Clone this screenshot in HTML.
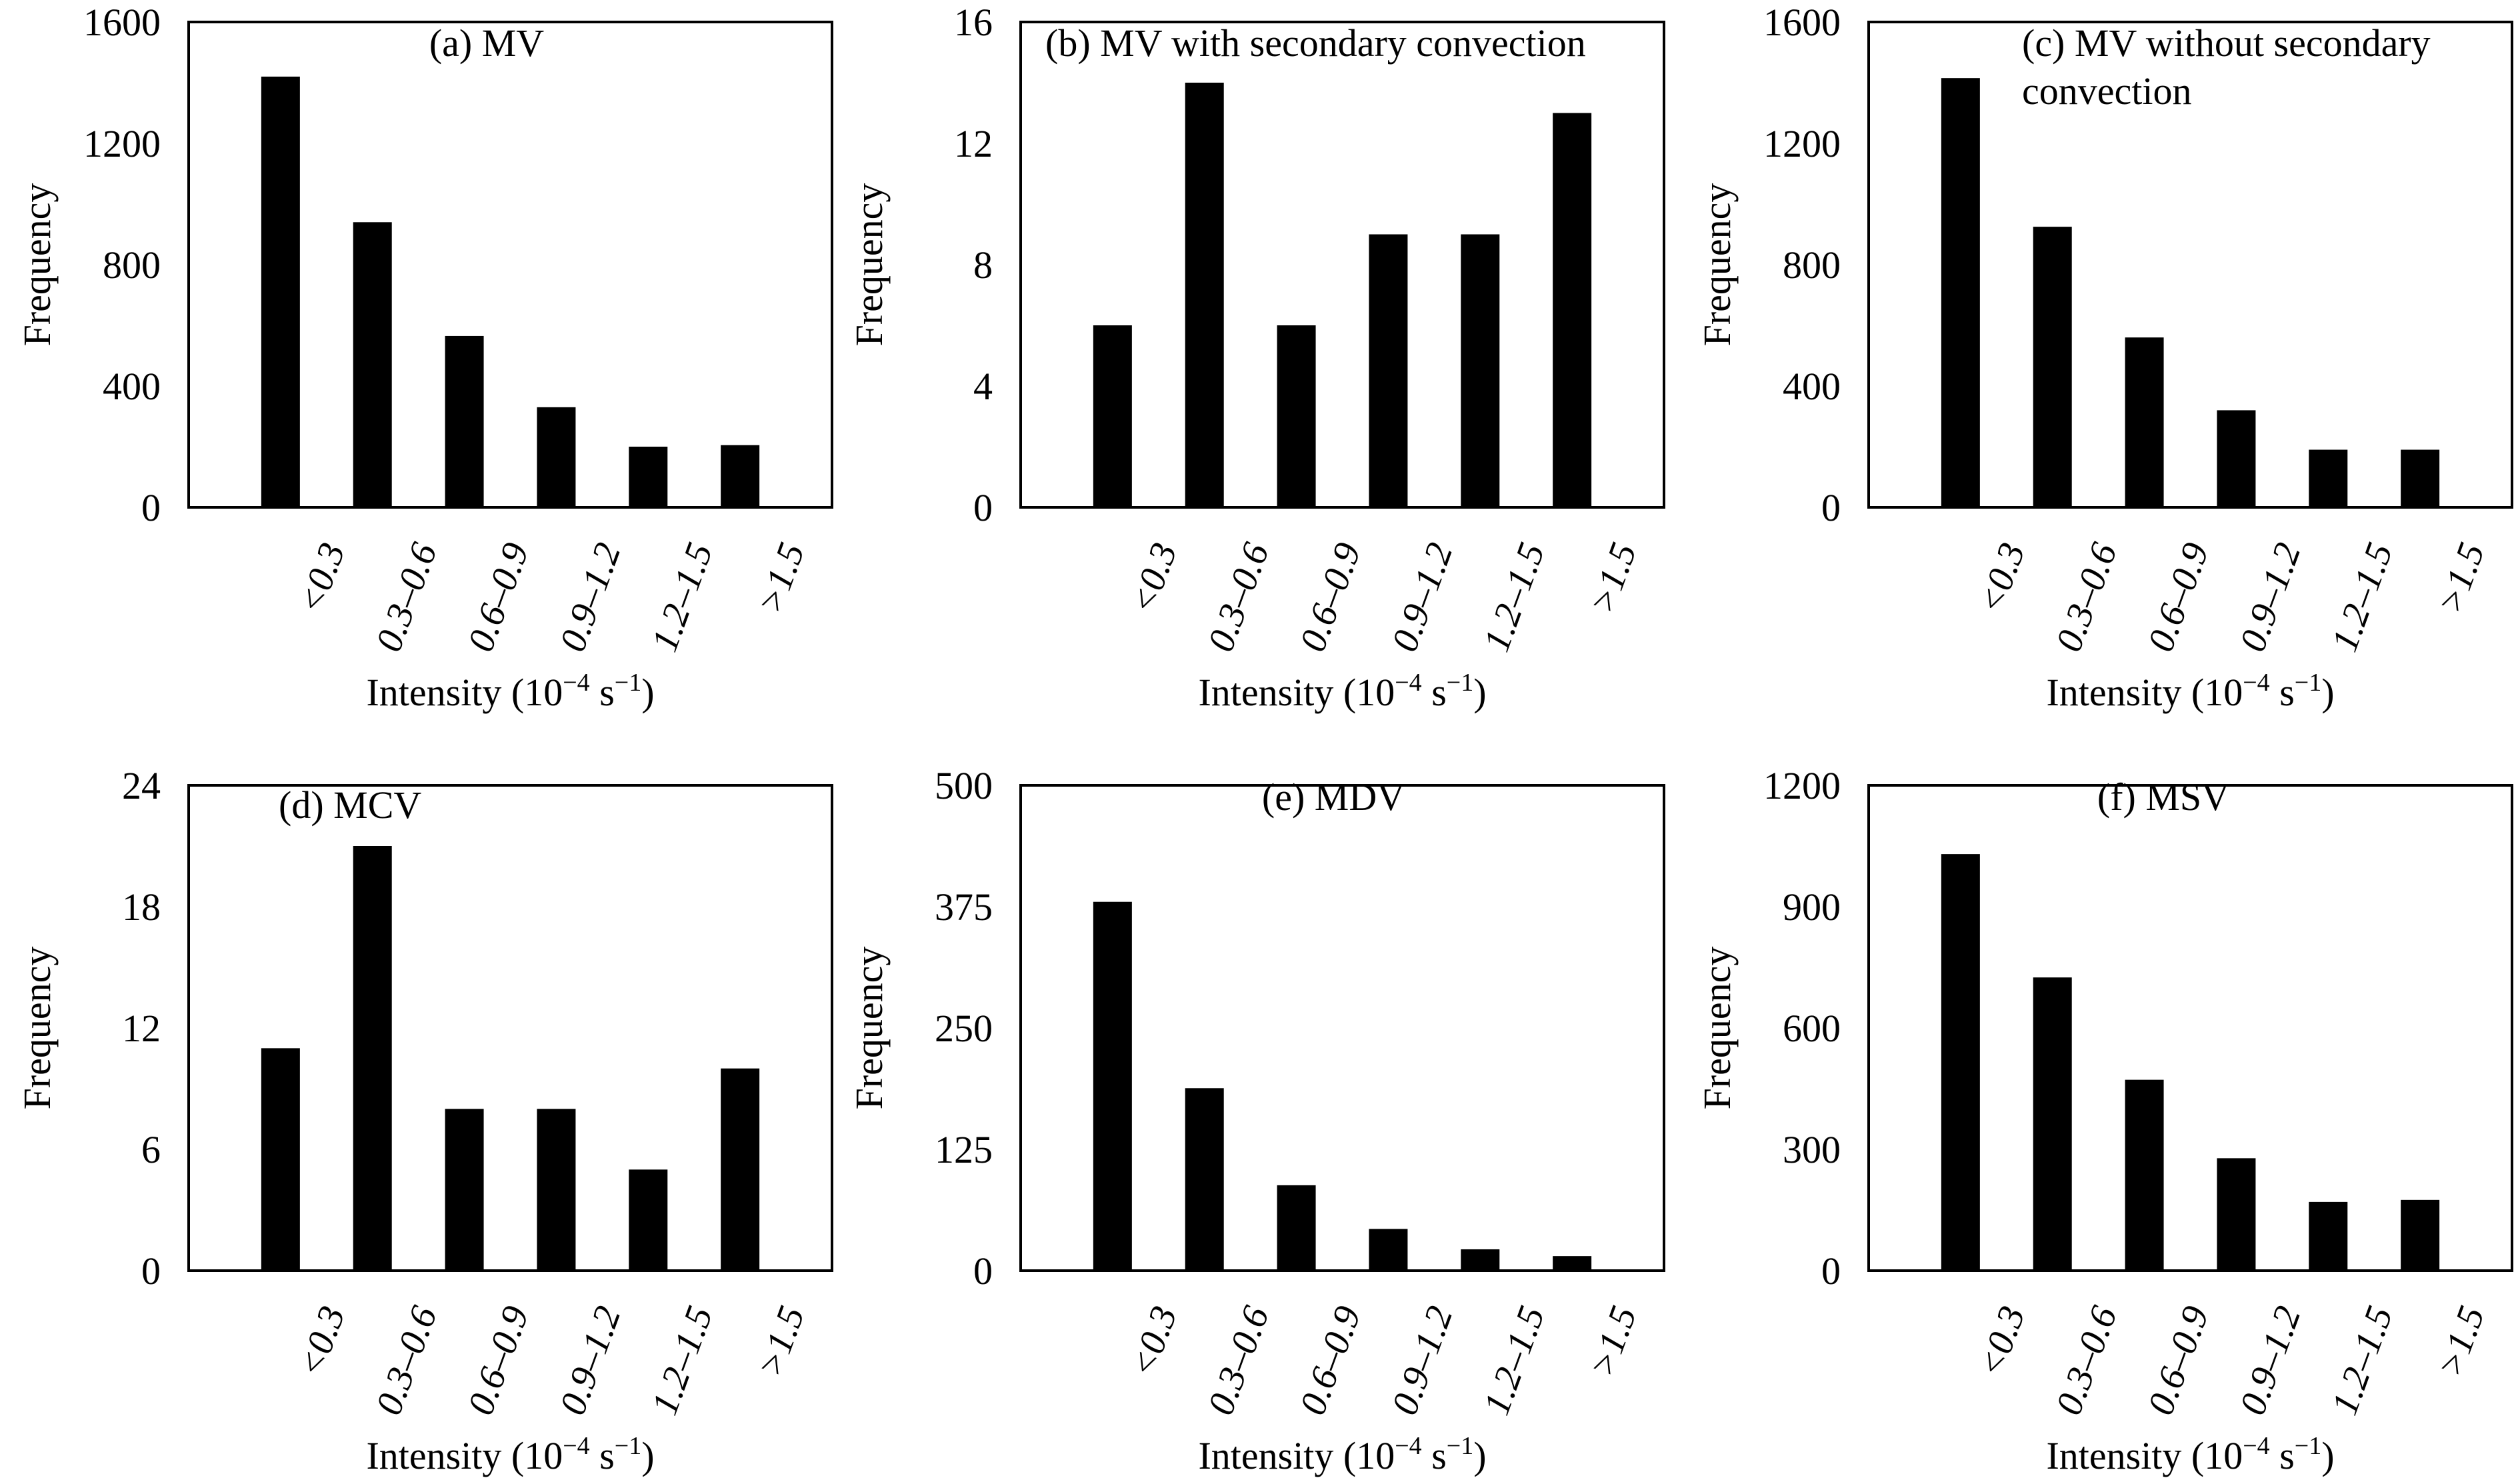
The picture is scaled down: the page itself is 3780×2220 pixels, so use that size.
<!DOCTYPE html>
<html><head><meta charset="utf-8"><style>
html,body{margin:0;padding:0;background:#fff;}
svg{display:block;font-family:"Liberation Serif",serif;}
</style></head><body>
<svg id="fig" width="3780" height="2220" viewBox="0 0 3780 2220" xmlns="http://www.w3.org/2000/svg"></svg>
<script>
const categories = ["<0.3","0.3–0.6","0.6–0.9","0.9–1.2","1.2–1.5",">1.5"];
const valuesA = [1420, 940, 565, 330, 200, 205];
const valuesB = [6, 14, 6, 9, 9, 13];
const valuesC = [1415, 925, 560, 320, 190, 190];
const valuesD = [11, 21, 8, 8, 5, 10];
const valuesE = [380, 188, 88, 43, 22, 15];
const valuesF = [1030, 725, 472, 278, 170, 175];
const ticksA = [0, 400, 800, 1200, 1600];
const ticksB = [0, 4, 8, 12, 16];
const ticksC = [0, 400, 800, 1200, 1600];
const ticksD = [0, 6, 12, 18, 24];
const ticksE = [0, 125, 250, 375, 500];
const ticksF = [0, 300, 600, 900, 1200];
const titleA = ["(a) MV"];
const titleB = ["(b) MV with secondary convection"];
const titleC = ["(c) MV without secondary", "convection"];
const titleD = ["(d) MCV"];
const titleE = ["(e) MDV"];
const titleF = ["(f) MSV"];

const NS = "http://www.w3.org/2000/svg";
const svg = document.getElementById("fig");
function mk(tag, attrs, parent){
  const e = document.createElementNS(NS, tag);
  for (const k in attrs) e.setAttribute(k, attrs[k]);
  (parent||svg).appendChild(e);
  return e;
}
const panels = [
  {id:"a", x0:283, x1:1248, y0:33, y1:761, vals:valuesA, ticks:ticksA, title:titleA, tx:730, ty:84, anchor:"middle"},
  {id:"b", x0:1531, x1:2496, y0:33, y1:761, vals:valuesB, ticks:ticksB, title:titleB, tx:1568, ty:84, anchor:"start"},
  {id:"c", x0:2803, x1:3768, y0:33, y1:761, vals:valuesC, ticks:ticksC, title:titleC, tx:3033, ty:84, anchor:"start"},
  {id:"d", x0:283, x1:1248, y0:1178, y1:1906, vals:valuesD, ticks:ticksD, title:titleD, tx:418, ty:1227, anchor:"start"},
  {id:"e", x0:1531, x1:2496, y0:1178, y1:1906, vals:valuesE, ticks:ticksE, title:titleE, tx:2000, ty:1215, anchor:"middle"},
  {id:"f", x0:2803, x1:3768, y0:1178, y1:1906, vals:valuesF, ticks:ticksF, title:titleF, tx:3245, ty:1215, anchor:"middle"}
];
panels.forEach(p => {
  const g = mk("g", {});
  
  
  const w = p.x1 - p.x0, slot = w / 7;
  const ymax = p.ticks[p.ticks.length-1];
  const yS = v => p.y1 - v / ymax * (p.y1 - p.y0);
  const xS = i => p.x0 + slot * (i + 1);
  const frame = mk("rect", {x:p.x0, y:p.y0, width:w, height:p.y1-p.y0, fill:"none", stroke:"#000", "stroke-width":4}, g);
  
  
  p.ticks.forEach(t => {
    const tl = mk("text", {x:p.x0-42, y:yS(t)+20, "text-anchor":"end", "font-size":58}, g);
    
    
    tl.textContent = t;
  });
  p.vals.forEach((v, i) => {
    const bw = 58;
    const b = mk("rect", {x:xS(i)-bw/2, y:yS(v), width:bw, height:p.y1-yS(v), fill:"#000"}, g);
    
    
  });
  categories.forEach((c, i) => {
    const lx = xS(i) + slot*0.5 + 28, ly = p.y1 + 62;
    const t = mk("text", {x:lx, y:ly, "text-anchor":"end", "font-size":56, "font-style":"italic", transform:"rotate(-70 "+lx+" "+ly+")"}, g);
    
    
    t.textContent = c;
  });
  const xt = mk("text", {x:(p.x0+p.x1)/2, y:p.y1+297, "text-anchor":"middle", "font-size":58}, g);
  
  
  xt.innerHTML = 'Intensity (10<tspan dy="-22" font-size="38">−4</tspan><tspan dy="22"> s</tspan><tspan dy="-22" font-size="38">−1</tspan><tspan dy="22">)</tspan>';
  const yc = (p.y0+p.y1)/2, yx = p.x0 - 208;
  const yt = mk("text", {x:yx, y:yc, "text-anchor":"middle", "font-size":58, transform:"rotate(-90 "+yx+" "+yc+")"}, g);
  
  
  yt.textContent = "Frequency";
  p.title.forEach((line, k) => {
    const tt = mk("text", {x:p.tx, y:p.ty + k*72, "text-anchor":p.anchor, "font-size":58}, g);
    
    
    tt.textContent = line;
  });
});
</script>
</body></html>
